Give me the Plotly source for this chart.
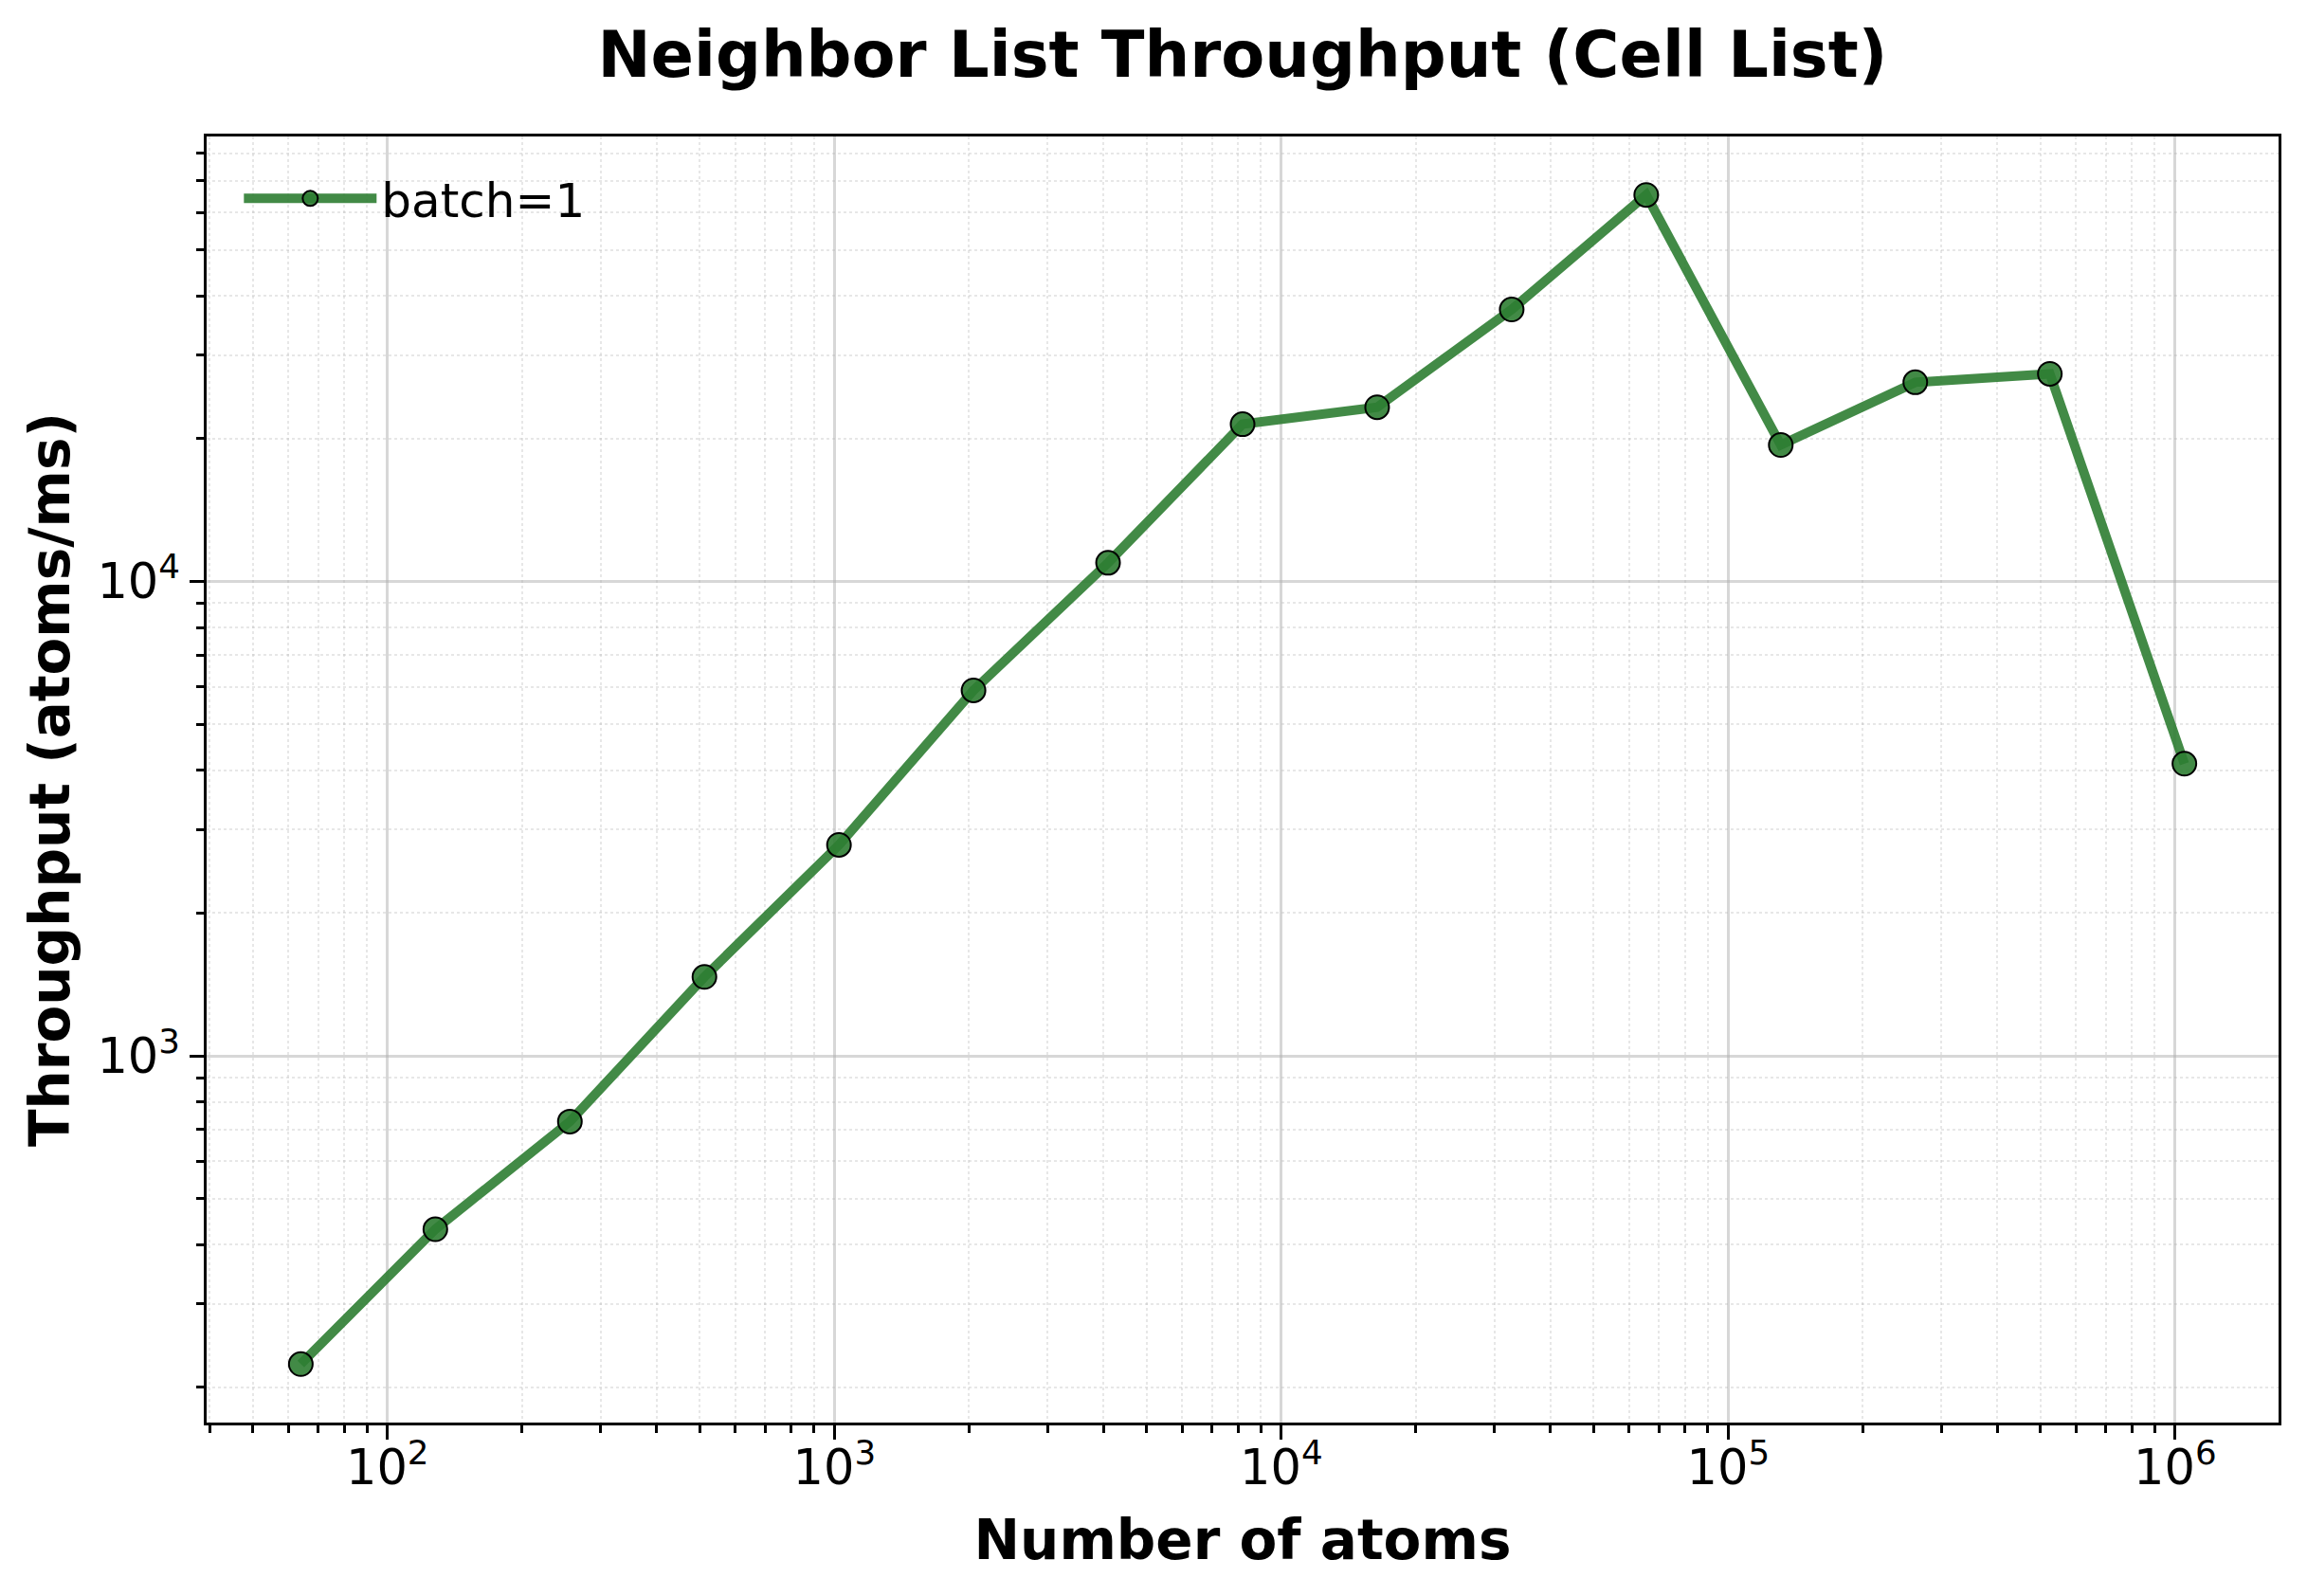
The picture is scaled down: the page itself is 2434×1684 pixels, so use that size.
import math
import plotly.graph_objects as go

# ---- data ----
atoms = [64, 128, 256, 512, 1024, 2048, 4096, 8192, 16384, 32768,
         65536, 131072, 262144, 524288, 1048576]
throughput = [224, 431, 727, 1467, 2785, 5895, 10950, 21460, 23300, 37450,
              65300, 19400, 26300, 27400, 4130]
series_name = "batch=1"

x_major = [1e2, 1e3, 1e4, 1e5, 1e6]
x_major_text = ["10<sup>2</sup>", "10<sup>3</sup>", "10<sup>4</sup>", "10<sup>5</sup>", "10<sup>6</sup>"]
y_major = [1e3, 1e4]
y_major_text = ["10<sup>3</sup>", "10<sup>4</sup>"]

title_text = "Neighbor List Throughput (Cell List)"
x_label = "Number of atoms"
y_label = "Throughput (atoms/ms)"

# ---- helpers ----
def log_range(vals, pad=0.05):
    lo, hi = math.log10(min(vals)), math.log10(max(vals))
    d = (hi - lo) * pad
    return [lo - d, hi + d]

def minor_vals(rng):
    out = []
    for e in range(int(math.floor(rng[0])) - 1, int(math.ceil(rng[1])) + 1):
        for m in range(2, 10):
            v = m * 10 ** e
            if rng[0] <= math.log10(v) <= rng[1]:
                out.append(v)
    return out

xr = log_range(atoms)
yr = log_range(throughput)

W, H = 2434, 1684
FONT = "DejaVu Sans"
GREEN = "rgba(46,125,50,0.9)"

fig = go.Figure()
fig.add_trace(go.Scatter(
    x=atoms, y=throughput, mode="lines+markers", name=series_name,
    line=dict(color=GREEN, width=10),
    marker=dict(size=25, color=GREEN, line=dict(color="black", width=2)),
))

axis_common = dict(
    type="log",
    showline=True, linecolor="black", linewidth=2.5, mirror=True,
    ticks="outside", ticklen=15, tickwidth=3, tickcolor="black",
    showgrid=True, gridcolor="rgba(176,176,176,0.5)", gridwidth=3,
    zeroline=False,
    tickfont=dict(family=FONT, size=51, color="black"),
    tickmode="array",
)

fig.update_xaxes(
    **axis_common, range=xr, tickvals=x_major, ticktext=x_major_text,
    ticklabelstandoff=-14,
    minor=dict(tickmode="array", tickvals=minor_vals(xr), ticks="outside",
               ticklen=8, tickwidth=2.5, tickcolor="black", showgrid=True,
               gridcolor="rgba(176,176,176,0.3)", gridwidth=2, griddash="dot"),
    title=dict(text=x_label, font=dict(family=FONT, size=58, color="black", weight="bold"),
               standoff=28),
)
fig.update_yaxes(
    **axis_common, range=yr, tickvals=y_major, ticktext=y_major_text,
    ticklabelstandoff=0,
    minor=dict(tickmode="array", tickvals=minor_vals(yr), ticks="outside",
               ticklen=8, tickwidth=2.5, tickcolor="black", showgrid=True,
               gridcolor="rgba(176,176,176,0.3)", gridwidth=2, griddash="dot"),
    title=dict(text=y_label, font=dict(family=FONT, size=58, color="black", weight="bold"),
               standoff=11),
)

fig.update_layout(
    width=W, height=H,
    margin=dict(l=218, r=30, t=144, b=183, autoexpand=False),
    paper_bgcolor="white", plot_bgcolor="white",
    title=dict(text=title_text, x=0.5386, xanchor="center",
               y=1 - 58 / H, yref="container", yanchor="middle",
               font=dict(family=FONT, size=67, color="black", weight="bold")),
    legend=dict(x=0.0157, y=0.9806, xanchor="left", yanchor="top",
                bgcolor="rgba(0,0,0,0)", borderwidth=0,
                font=dict(family=FONT, size=50, color="black"),
                itemwidth=140),
    showlegend=True,
)

fig.write_html("out.html", config={"displayModeBar": False},
               post_script="document.body.style.margin='0';")
